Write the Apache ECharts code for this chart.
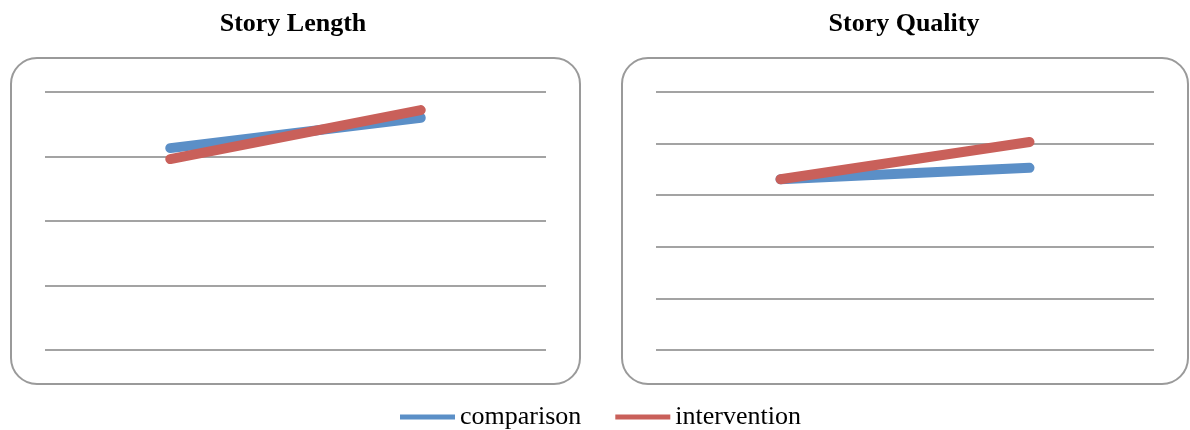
<!DOCTYPE html>
<html>
<head>
<meta charset="utf-8">
<script src="https://cdn.jsdelivr.net/npm/echarts@6/dist/echarts.min.js"></script>
<style>html,body{margin:0;padding:0;background:#fff}#c{width:1190px;height:430px}</style>
</head>
<body>
<div id="c"></div>
<script>
const categories = ['Pre', 'Post'];
const lengthComparison = [3.13, 3.60];
const lengthIntervention = [2.96, 3.72];
const qualityComparison = [3.31, 3.53];
const qualityIntervention = [3.31, 4.03];
const titles = ['Story Length', 'Story Quality'];
const seriesNames = ['comparison', 'intervention'];

const BLUE = '#5b8fc7';
const RED = '#c9605a';
const FONT = '"Liberation Serif", "Times New Roman", serif';

const chart = echarts.init(document.getElementById('c'));
function lineSeries(name, data, idx, color) {
  return {
    name: name, type: 'line', data: data,
    xAxisIndex: idx, yAxisIndex: idx,
    symbol: 'none', smooth: false,
    lineStyle: { color: color, width: 10, cap: 'round', join: 'round' },
    itemStyle: { color: color },
    z: 5
  };
}
function yAx(idx, max) {
  return {
    type: 'value', gridIndex: idx, min: 0, max: max, interval: 1,
    axisLabel: { show: false }, axisTick: { show: false }, axisLine: { show: false },
    splitLine: { show: true, lineStyle: { color: '#a3a3a3', width: 2 } }
  };
}
function xAx(idx) {
  return {
    type: 'category', gridIndex: idx, data: categories, boundaryGap: true,
    axisLabel: { show: false }, axisTick: { show: false }, axisLine: { show: false },
    splitLine: { show: false }
  };
}
chart.setOption({
  animation: false,
  backgroundColor: '#fff',
  title: [
    { text: titles[0], left: 288, top: 6, textAlign: 'center',
      textStyle: { fontFamily: FONT, fontWeight: 'bold', fontSize: 26, color: '#000' } },
    { text: titles[1], left: 899, top: 6, textAlign: 'center',
      textStyle: { fontFamily: FONT, fontWeight: 'bold', fontSize: 26, color: '#000' } }
  ],
  graphic: [
    { type: 'rect', shape: { x: 11, y: 58, width: 569, height: 326, r: 26 },
      style: { fill: 'none', stroke: '#9a9a9a', lineWidth: 2 }, z: 0 },
    { type: 'rect', shape: { x: 622, y: 58, width: 566, height: 326, r: 26 },
      style: { fill: 'none', stroke: '#9a9a9a', lineWidth: 2 }, z: 0 }
  ],
  legend: {
    data: seriesNames,
    left: 395, top: 399,
    icon: 'rect', itemWidth: 55, itemHeight: 5, itemGap: 34,
    textStyle: { fontFamily: FONT, fontSize: 26, color: '#000' }
  },
  grid: [
    { left: 45, right: 644, top: 92, bottom: 80 },
    { left: 656, right: 36, top: 92, bottom: 80 }
  ],
  xAxis: [xAx(0), xAx(1)],
  yAxis: [yAx(0, 4), yAx(1, 5)],
  series: [
    lineSeries(seriesNames[0], lengthComparison, 0, BLUE),
    lineSeries(seriesNames[1], lengthIntervention, 0, RED),
    lineSeries(seriesNames[0], qualityComparison, 1, BLUE),
    lineSeries(seriesNames[1], qualityIntervention, 1, RED)
  ]
});
</script>
</body>
</html>
